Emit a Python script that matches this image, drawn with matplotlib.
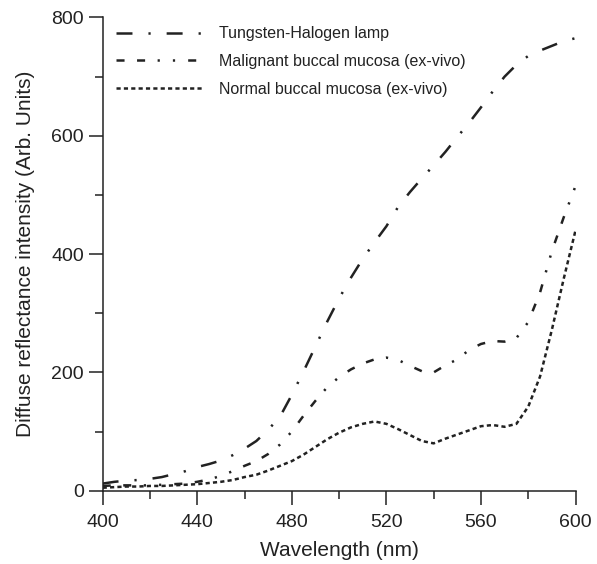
import matplotlib
matplotlib.use("Agg")
import matplotlib.pyplot as plt
from matplotlib.ticker import MultipleLocator

plt.rcParams['font.family'] = ['Liberation Sans', 'DejaVu Sans']
plt.rcParams['lines.scale_dashes'] = False

wavelength = [400, 405, 410, 415, 420, 425, 430, 435, 440, 445,
              450, 455, 460, 465, 470, 475, 480, 485, 490, 495,
              500, 505, 510, 515, 520, 525, 530, 535, 540, 545,
              550, 555, 560, 565, 570, 575, 580, 585, 590, 595, 600]

lamp = [12, 15, 17, 18, 20, 23, 28, 33, 40, 45,
        51, 60, 71, 84, 103, 125, 162, 202, 244, 286,
        325, 360, 392, 420, 447, 480, 505, 528, 550, 573,
        598, 622, 648, 675, 700, 720, 735, 744, 752, 760, 765]

malignant = [8, 9, 9, 9, 9, 10, 11, 12, 15, 19,
             25, 33, 42, 50, 62, 78, 100, 127, 152, 175,
             192, 205, 215, 222, 225, 221, 211, 202, 200, 212,
             222, 238, 248, 253, 252, 258, 285, 335, 405, 462, 515]

normal = [5, 6, 7, 7, 8, 8, 9, 10, 11, 13,
          15, 18, 23, 27, 34, 42, 50, 61, 74, 87,
          98, 107, 113, 117, 113, 104, 94, 84, 80, 88,
          95, 102, 109, 111, 108, 113, 142, 193, 272, 358, 440]

labels = ["Tungsten-Halogen lamp",
          "Malignant buccal mucosa (ex-vivo)",
          "Normal buccal mucosa (ex-vivo)"]

line_col = '#222222'

fig = plt.figure(figsize=(5.97, 5.64), dpi=100)
ax = fig.add_axes([0.172, 0.130, 0.792, 0.839])

ax.plot(wavelength, lamp, color=line_col, lw=1.8, dash_capstyle='butt',
        linestyle=(0, (11.5, 11.5, 1.6, 11.5)), label=labels[0])
ax.plot(wavelength, malignant, color=line_col, lw=1.8, dash_capstyle='butt',
        linestyle=(0, (5.8, 9, 5.8, 9, 1.6, 9.4, 1.6, 9.4)), label=labels[1])
ax.plot(wavelength, normal, color=line_col, lw=1.8, dash_capstyle='butt',
        linestyle=(0, (3, 2.3)), label=labels[2])

ax.set_xlim(400, 600)
ax.set_ylim(0, 800)
ax.xaxis.set_major_locator(MultipleLocator(40))
ax.xaxis.set_minor_locator(MultipleLocator(20))
ax.yaxis.set_major_locator(MultipleLocator(200))
ax.yaxis.set_minor_locator(MultipleLocator(100))

for side in ('top', 'right'):
    ax.spines[side].set_visible(False)
for side in ('left', 'bottom'):
    ax.spines[side].set_linewidth(1.1)
    ax.spines[side].set_color('#222222')

ax.tick_params(which='major', direction='out', length=10, width=1.1,
               labelsize=14, pad=3.5, colors='#222222')
ax.tick_params(which='minor', direction='out', length=5.5, width=1.1,
               colors='#222222')
ax.tick_params(axis='x', which='major', pad=7)

ax.set_xlabel("Wavelength (nm)", fontsize=15, labelpad=7, color='#222222')
ax.set_ylabel("Diffuse reflectance intensity (Arb. Units)", fontsize=15,
              labelpad=12, color='#222222')

leg = ax.legend(loc='upper left', bbox_to_anchor=(0.015, 0.995), frameon=False,
                fontsize=11.5, handlelength=5.5, handletextpad=0.95,
                labelspacing=0.8, borderaxespad=0)
for t in leg.get_texts():
    t.set_color('#222222')

fig.savefig("out.png", dpi=100)
